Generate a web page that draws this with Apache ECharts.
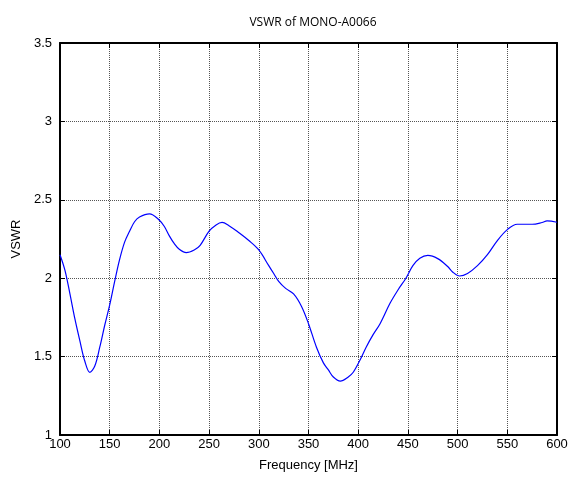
<!DOCTYPE html>
<html><head><meta charset="utf-8">
<script src="https://cdn.jsdelivr.net/npm/echarts@6/dist/echarts.min.js"></script>
<style>html,body{margin:0;padding:0;background:#fff}#c{width:573px;height:477px}</style>
</head><body><div id="c"></div>
<script>
const freq = [100,105,110,115,120,125,130,135,140,145,150,155,160,165,170,175,180,190,200,205,210,215,220,227,235,241,250,257,263,270,280,290,300,310,315,320,327,335,343,350,358,365,370,375,382,390,395,402,408,415,422,432,440,448,455,462,470,480,490,495,502,510,520,530,540,550,560,575,585,590,600];
const vswr = [2.15,2.05,1.90,1.74,1.60,1.47,1.40,1.44,1.56,1.70,1.83,1.98,2.12,2.23,2.30,2.36,2.39,2.41,2.37,2.33,2.27,2.22,2.185,2.163,2.18,2.21,2.30,2.34,2.356,2.335,2.29,2.24,2.18,2.08,2.03,1.98,1.935,1.90,1.82,1.71,1.56,1.46,1.415,1.37,1.344,1.37,1.40,1.48,1.56,1.64,1.71,1.84,1.925,2.0,2.08,2.127,2.145,2.125,2.075,2.04,2.014,2.03,2.08,2.15,2.24,2.31,2.344,2.344,2.355,2.365,2.357];
const xTicks = [100,150,200,250,300,350,400,450,500,550,600];
const yTicks = [1,1.5,2,2.5,3,3.5];
const titleText = 'VSWR of MONO-A0066';
const xName = 'Frequency [MHz]';
const yName = 'VSWR';

const chart = echarts.init(document.getElementById('c'), null, {renderer:'canvas'});
const font = 'Liberation Sans, Arial, sans-serif';
const gridLine = {show:true, lineStyle:{color:'#555', type:[1,1], width:1}};
const axisLine = {show:true, onZero:false, lineStyle:{color:'#000', width:2}};
const tick = {show:true, inside:true, length:5, lineStyle:{color:'#000'}};
chart.setOption({
  animation:false,
  backgroundColor:'#fff',
  title:{text:titleText, left:308, top:12, textAlign:'center',
    textStyle:{fontFamily:'Open Sans, Liberation Sans, sans-serif', fontSize:12, fontWeight:'normal', color:'#000'}},
  grid:{left:60, right:16, top:43, bottom:42, show:false},
  xAxis:[
    {type:'value', min:xTicks[0], max:xTicks[xTicks.length-1], interval:50, position:'bottom',
     name:xName, nameLocation:'middle', nameGap:24,
     nameTextStyle:{fontFamily:font, fontSize:13, color:'#000'},
     axisLine:axisLine, axisTick:tick, splitLine:gridLine,
     axisLabel:{margin:3, fontFamily:font, fontSize:13, color:'#000'}},
    {type:'value', min:xTicks[0], max:xTicks[xTicks.length-1], interval:50, position:'top',
     axisLine:axisLine, axisTick:tick, splitLine:{show:false}, axisLabel:{show:false}}
  ],
  yAxis:[
    {type:'value', min:yTicks[0], max:yTicks[yTicks.length-1], interval:0.5, position:'left',
     name:yName, nameLocation:'middle', nameGap:36,
     nameTextStyle:{fontFamily:font, fontSize:13, color:'#000'},
     axisLine:axisLine, axisTick:tick, splitLine:gridLine,
     axisLabel:{margin:8, fontFamily:font, fontSize:13, color:'#000'}},
    {type:'value', min:yTicks[0], max:yTicks[yTicks.length-1], interval:0.5, position:'right',
     axisLine:axisLine, axisTick:tick, splitLine:{show:false}, axisLabel:{show:false}}
  ],
  series:[{
    type:'line', data:freq.map((f,i)=>[f, vswr[i]]),
    showSymbol:false, smooth:0.35,
    lineStyle:{color:'#0000ff', width:1.2}, itemStyle:{color:'#0000ff'}
  }]
});
</script></body></html>
